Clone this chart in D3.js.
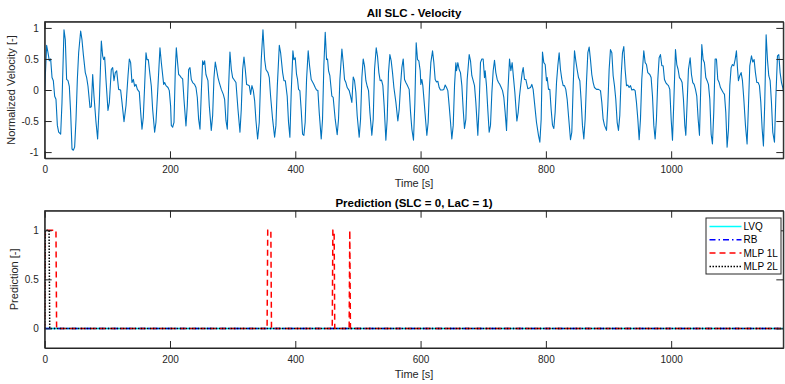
<!DOCTYPE html>
<html>
<head>
<meta charset="utf-8">
<script src="https://cdn.jsdelivr.net/npm/d3@7"></script>
<style>
  body { margin: 0; background: #fff; }
  svg { font-family: "Liberation Sans", Arial, sans-serif; }
  .axis path, .axis line { stroke: #262626; }
  .axis text { fill: #262626; font-size: 10px; }
</style>
</head>
<body>
<div id="main"></div>
<script>
// velocity: [time s, normalized velocity]
const velocity = [
  [0,0],[3.1,0.72],[5.3,0.6],[7.4,0.47],[9.5,0.5],[11.7,0.2],[13.8,0.15],[15.9,-0.1],[18,-0.15],[20.2,-0.57],[22.3,-0.68],[25.5,-0.71],[27.6,-0.2],[30.8,0.97],[32.9,0.81],[35,0.17],[37.2,0.15],[39.3,0.06],[41.4,-0.36],[43.6,-0.95],[45.7,-0.97],[47.8,-0.92],[50,-0.47],[52.1,0.17],[54.2,0.6],[57.4,0.95],[59.5,0.81],[61.7,0.57],[64.8,0.28],[67,0.2],[69.1,0.06],[72.3,-0.28],[74.4,-0.27],[76.6,0.25],[78.7,-0.1],[81.9,-0.52],[84.5,-0.79],[87.2,-0.2],[90.4,0.79],[92.5,0.55],[94.1,0.49],[95.7,0.53],[97.8,0.17],[101,-0.33],[103.2,-0.2],[106.3,0.33],[108.5,0.36],[110.6,0.15],[112.7,0.28],[114.9,0.31],[118,0.01],[121.2,0],[123.4,-0.2],[126.6,-0.51],[129.8,-0.25],[133,0.23],[135.1,0.5],[137.2,0.44],[139.3,0.12],[141.5,0.17],[143.6,0.06],[145.7,0.09],[147.9,0.01],[151,-0.03],[153.2,-0.36],[155.3,-0.63],[157.4,-0.44],[159.5,0.06],[161.7,0.6],[163.3,0.49],[165.4,0.49],[168,0.25],[170.2,0.06],[172.3,-0.31],[175.5,-0.68],[177.6,-0.52],[180.8,0.06],[184,0.68],[186.2,0.44],
  [189.9,0.09],[191.5,0.12],[193.6,0.07],[196.8,0.04],[198.9,-0.01],[201,-0.26],[202.1,-0.57],[204.2,-0.6],[206.4,-0.52],[208.5,0.33],[210.1,0.68],[211.7,0.49],[213.8,0.25],[215.9,0.23],[218,0.2],[220.2,0.18],[222.3,-0.15],[225.5,-0.58],[227.6,-0.25],[229.8,0.33],[231.9,0.36],[234,0.17],[236.2,0.12],[239.3,0.09],[241.5,0.04],[243.6,-0.12],[245.7,-0.47],[247.9,-0.63],[250,-0.04],[252.1,0.47],[253.7,0.41],[255.3,0.47],[257.4,0.25],[260.6,0.15],[262.7,-0.25],[265.9,-0.65],[268.1,-0.41],[270.2,0.2],[272.3,0.45],[274.4,0.33],[276.6,0.2],[278.7,0.12],[281.9,0.01],[285.1,-0.07],[287.2,-0.15],[289.3,-0.49],[291.5,-0.63],[293.6,0.06],[295.7,0.61],[297.9,0.33],[300,0.2],[302.1,0.17],[305.3,0.12],[308.5,-0.31],[311.7,-0.68],[313.8,-0.31],[316,0.33],[318.1,0.53],[320.2,0.33],[322.3,0.09],[324.5,0.08],[326.6,0.07],[328.7,-0.07],[330.8,0.07],[333,-0.01],[335.1,-0.17],[337.2,-0.49],[339.9,-0.79],[342.5,-0.52],[345.7,0.49],[348.4,0.97],[351.1,0.49],[353.2,0.33],[356.4,0.28],[358.5,0.2],[360.6,-0.1],[363.8,-0.47],[367,-0.76],[369.1,-0.57],[371.3,0.06],[374.5,0.72],[376.6,0.6],[379.8,0.28],[381.9,0.15],[384.1,0.15],
  [387.1,-0.1],[389.2,-0.52],[391.4,-0.76],[393.5,-0.04],[396.2,0.63],[397.8,0.49],[399.9,0.52],[402,0.25],[403.6,0.17],[405.2,0.01],[407.3,-0.01],[409.5,-0.33],[411.6,-0.71],[413.7,-0.73],[415.8,-0.52],[418,0.17],[420.6,0.63],[422.8,0.39],[425.4,0.17],[427.6,0.13],[429.7,0.09],[431.8,0.04],[433.9,0],[436.1,-0.01],[438.2,-0.36],[441.4,-0.79],[443.5,-0.47],[445.6,0.39],[447.8,0.93],[449.9,0.49],[451.5,0.5],[453.1,0.31],[455.2,0.23],[458.4,-0.1],[460.5,-0.12],[463.7,-0.47],[466.9,-0.72],[469,-0.47],[471.2,0.17],[474.4,0.66],[476.5,0.44],[478.6,0.17],[480.8,0.12],[482.9,0.04],[486.1,-0.01],[488.2,-0.1],[490.3,-0.2],[491.4,0.01],[492.5,0.21],[494.6,0.15],[496.7,-0.04],[498.8,-0.41],[502,-0.76],[504.2,-0.47],[506.3,0.2],[508.4,0.5],[510.5,0.39],[512.7,0.15],[514.8,0.06],[516.9,-0.01],[519.1,-0.36],[522.2,-0.73],[524.4,-0.47],[526.5,0.33],[529.2,0.68],[531.3,0.54],[533.4,0.28],[535.5,0.15],[537.7,0.16],[539.8,0.07],[541.9,-0.26],[544.6,-0.81],[546.7,-0.47],[548.8,0.28],[551,0.57],[553.1,0.47],[555.2,0.28],[557.4,0.04],[560.6,-0.2],[563.7,-0.5],[565.9,-0.31],[568,0.07],[570.1,0.36],[572.3,0.5],[574.4,0.17],[576.5,0.12],[578.6,0.08],
  [581.8,0.01],[584,-0.36],[586.1,-0.63],[588.7,-0.81],[590.9,-0.2],[593,0.76],[595.1,0.49],[597.2,0.47],[599.4,0.31],[600.4,0.09],[602,0.17],[603.6,0.07],[605.8,-0.2],[607.9,-0.47],[610,-0.73],[612.1,-0.52],[614.3,0.07],[616.4,0.44],[619.1,0.63],[621.2,0.44],[623.3,0.17],[625.4,0.13],[627.6,0.14],[629.7,0.04],[631.8,0],[635,0],[637.1,0.01],[639.3,0.08],[641.4,0.04],[643.5,-0.01],[645.7,-0.26],[647.8,-0.52],[649.9,-0.79],[652.1,-0.57],[654.2,0.07],[656.3,0.44],[657.4,0.31],[659.5,0.44],[661.6,0.33],[663.7,0.28],[665.9,0.07],[668,-0.31],[670.1,-0.62],[672.3,-0.47],[674.4,0.17],[677.6,0.57],[679.7,0.47],[681.8,0.23],[684,0.15],[686.1,0.07],[688.2,-0.2],[691.4,-0.73],[693.5,-0.25],[695.6,0.44],[697.8,0.5],[699.9,0.5],[702,0.2],[703.1,0.31],[705.2,0.07],[707.4,-0.33],[709.5,-0.68],[711.6,-0.57],[713.8,-0.04],[715.9,0.31],[718,0.48],[720.1,0.28],[722.3,0.17],[724.4,0.12],[726.5,0.09],[728.7,0.04],[730.8,-0.01],[732.9,-0.12],[735,-0.36],[737.2,-0.65],[739.3,-0.04],[742,0.5],[744.1,0.31],[746.2,0.44],[748.3,0.2],[750.5,-0.04],[753.7,-0.5],[755.8,-0.36],[757.9,-0.1],[760,0.09],[762.2,0.28],[763.8,0.36],[765.9,0.17],[768,0.17],[771.2,0.02],
  [775.5,0.04],[777.6,0.09],[779.7,0.01],[781.8,-0.2],[785,-0.52],[788.2,-0.73],[790.4,-0.84],[792.5,-0.47],[794.6,0.61],[796.7,0.44],[798.9,0.41],[801,0.15],[802.1,0.2],[804.2,0.01],[806.3,0.01],[808.4,-0.31],[810.6,-0.57],[812.7,-0.62],[814.8,-0.36],[817,0.12],[819.1,0.39],[821.2,0.6],[823.3,0.33],[825.5,0.17],[827.6,0.07],[829.7,0.07],[831.8,0.01],[834,-0.15],[836.1,-0.41],[839.3,-0.8],[841.4,-0.68],[843.6,0.07],[845.7,0.63],[847.8,0.47],[849.9,0.33],[852.1,0.2],[854.2,0.15],[856.3,-0.17],[858.4,-0.57],[860.6,-0.79],[862.7,-0.47],[864.8,0.12],[867,0.6],[869.1,0.69],[871.2,0.49],[873.3,0.25],[875.5,0.12],[877.6,0.04],[880.8,0.01],[884,0.01],[887.2,-0.01],[889.3,-0.2],[891.4,-0.47],[893.6,-0.57],[896.8,-0.65],[898.9,-0.25],[901,0.33],[903.1,0.65],[905.3,0.6],[907.4,0.23],[909.5,0.07],[911.6,-0.15],[913.8,-0.52],[915.9,-0.65],[918,-0.41],[920.2,0.23],[922.3,0.6],[924.4,0.7],[926.5,0.33],[928.7,0.07],[930.8,0.08],[932.9,0.04],[935.1,0.07],[937.2,0],[940.4,0.01],[942.5,-0.01],[944.6,-0.2],[946.8,-0.47],[948.9,-0.8],[951,-0.47],[953.1,0.17],[956.3,0.63],[958.5,0.44],[960.6,0.41],[962.7,0.28],[965.9,0.25],[968,0.2],
  [970.2,-0.1],[972.3,-0.57],[974.4,-0.79],[976.5,-0.47],[978.7,0.17],[980.8,0.52],[982.9,0.57],[985.1,0.39],[987.2,0.39],[989.3,0.17],[991.4,0.12],[993.6,0.09],[995.7,0.07],[997.8,0.01],[1000,-0.47],[1002.1,-0.81],[1004.2,-0.2],[1006.9,0.65],[1009,0.41],[1011.1,0.33],[1013.2,0.2],[1015.4,0.17],[1017.5,0.12],[1019.6,-0.15],[1021.8,-0.57],[1023.4,-0.73],[1025.5,-0.2],[1027.6,0.33],[1030.3,0.52],[1032.4,0.25],[1034.5,0.12],[1036.7,0.09],[1038.8,0.01],[1040.9,-0.1],[1043.1,-0.47],[1045.2,-0.73],[1047.3,0.07],[1048.9,0.73],[1051,0.49],[1053.1,0.44],[1055.3,0.2],[1057.4,0.15],[1059.5,0.09],[1061.7,-0.15],[1063.8,-0.71],[1065.9,-0.87],[1068,-0.36],[1070.2,0.5],[1072.3,0.5],[1074.4,0.17],[1076.6,0.12],[1078.7,0.04],[1080.8,0],[1083,-0.04],[1085.1,-0.07],[1087.2,-0.36],[1089.3,-0.92],[1091.5,-0.63],[1093.6,0.07],[1095.7,0.36],[1097.8,0.41],[1100,0.39],[1102.1,0.49],[1104.2,0.63],[1105.8,0.36],[1107.4,0.15],[1109.5,0.23],[1111.7,0.28],[1113.8,0.15],[1116,-0.15],[1118.6,-0.57],[1121.2,-0.87],[1123.4,-0.25],[1125.5,0.39],[1128.2,0.55],[1130.3,0.45],[1132.4,0.49],[1134.5,0.28],[1136.7,0.12],[1138.8,0.12],[1140.9,0.07],[1143.1,-0.2],[1145.2,-0.62],[1147.3,-0.9],[1149.4,-0.2],[1151.6,0.89],[1153.7,0.49],[1155.8,0.23],[1158,0.15],[1160.1,-0.2],[1162.2,-0.68],[1164.9,-0.84],[1167,-0.15],[1169.7,0.55],[1171.8,0.57],[1173.9,0.28],[1176.1,0.12],[1178.2,0.04],[1180.3,-0.1]
];

// predictions (0 = SLC, 1 = LaC)
const predLVQ = [[0,0],[1179,0]];
const predRB = [[0,0],[1179,0]];
const predMLP1 = [[0,0],[1,1],[18,1],[19,0],[355,0],[356,1],[361,1],[362,0],[459,0],[460,1],[462,1],[463,0],[486,0],[487,1],[488,0],[1179,0]];
const predMLP2 = [[0,0],[1,1],[7,1],[8,0],[1179,0]];

const legendNames = ['LVQ', 'RB', 'MLP 1L', 'MLP 2L'];
const timeTicks = [0, 200, 400, 600, 800, 1000];
const velTicks = [-1, -0.5, 0, 0.5, 1];
const predTicks = [0, 0.5, 1];

const width = 785, height = 384;
const left = 44.7, right = 783.3;
const topPanel = { top: 21.7, bottom: 158.3 };
const botPanel = { top: 210.7, bottom: 348 };
const tick = 7;

const svg = d3.select('#main').append('svg')
  .attr('width', width)
  .attr('height', height);

const x = d3.scaleLinear().domain([0, 1179]).range([left, right]);
const y1 = d3.scaleLinear().domain([-1.1, 1.1]).range([topPanel.bottom, topPanel.top]);
const y2 = d3.scaleLinear().domain([-0.2, 1.2]).range([botPanel.bottom, botPanel.top]);

const fmt = d => String(d);

function drawAxes(y, panel, yTicks) {
  svg.append('g').attr('class', 'axis')
    .attr('transform', `translate(0,${panel.bottom})`)
    .call(d3.axisBottom(x).tickValues(timeTicks).tickSize(-tick).tickPadding(8).tickFormat(fmt).tickSizeOuter(0));
  svg.append('g').attr('class', 'axis')
    .attr('transform', `translate(0,${panel.top})`)
    .call(d3.axisTop(x).tickValues(timeTicks).tickSize(-tick).tickFormat('').tickSizeOuter(0));
  svg.append('g').attr('class', 'axis')
    .attr('transform', `translate(${left},0)`)
    .call(d3.axisLeft(y).tickValues(yTicks).tickSize(-tick).tickPadding(6).tickFormat(fmt).tickSizeOuter(0));
  svg.append('g').attr('class', 'axis')
    .attr('transform', `translate(${right},0)`)
    .call(d3.axisRight(y).tickValues(yTicks).tickSize(-tick).tickFormat('').tickSizeOuter(0));
}

function clip(id, panel) {
  svg.append('clipPath').attr('id', id)
    .append('rect')
    .attr('x', left).attr('y', panel.top)
    .attr('width', right - left).attr('height', panel.bottom - panel.top);
}

// top panel
clip('clip-top', topPanel);
svg.append('path')
  .datum(velocity)
  .attr('clip-path', 'url(#clip-top)')
  .attr('fill', 'none')
  .attr('stroke', '#0072BD')
  .attr('stroke-width', 1.1)
  .attr('stroke-linejoin', 'round')
  .attr('d', d3.line().x(d => x(d[0])).y(d => y1(d[1])));
drawAxes(y1, topPanel, velTicks);

// bottom panel
clip('clip-bot', botPanel);
const series = [
  { name: legendNames[0], data: predLVQ, color: '#00FFFF', dash: null },
  { name: legendNames[1], data: predRB, color: '#0000FF', dash: '6,3,1.5,3' },
  { name: legendNames[2], data: predMLP1, color: '#FF0000', dash: '6,4' },
  { name: legendNames[3], data: predMLP2, color: '#000000', dash: '1.5,1.5' }
];
const line2 = d3.line().x(d => x(d[0])).y(d => y2(d[1]));
svg.selectAll('.pred-line')
  .data(series)
  .enter().append('path')
    .attr('class', 'pred-line')
    .attr('clip-path', 'url(#clip-bot)')
    .attr('fill', 'none')
    .attr('stroke', d => d.color)
    .attr('stroke-width', 1.5)
    .attr('stroke-dasharray', d => d.dash)
    .attr('d', d => line2(d.data));
drawAxes(y2, botPanel, predTicks);

// box outlines
[topPanel, botPanel].forEach(p => {
  svg.append('rect')
    .attr('x', left).attr('y', p.top)
    .attr('width', right - left).attr('height', p.bottom - p.top)
    .attr('fill', 'none')
    .attr('stroke', '#262626')
    .attr('stroke-width', 1);
});

// titles and labels
const cx = (left + right) / 2;
svg.append('text').attr('x', cx).attr('y', 16.5)
  .attr('text-anchor', 'middle').attr('font-size', 11.5).attr('font-weight', 'bold')
  .text('All SLC - Velocity');
svg.append('text').attr('x', cx).attr('y', 206.7)
  .attr('text-anchor', 'middle').attr('font-size', 11.5).attr('font-weight', 'bold')
  .text('Prediction (SLC = 0, LaC = 1)');
svg.append('text').attr('x', cx).attr('y', 186.5)
  .attr('text-anchor', 'middle').attr('font-size', 11).attr('fill', '#262626')
  .text('Time [s]');
svg.append('text').attr('x', cx).attr('y', 378)
  .attr('text-anchor', 'middle').attr('font-size', 11).attr('fill', '#262626')
  .text('Time [s]');
svg.append('text')
  .attr('transform', `translate(14.7,${(topPanel.top + topPanel.bottom) / 2}) rotate(-90)`)
  .attr('text-anchor', 'middle').attr('font-size', 11).attr('fill', '#262626')
  .text('Normalized Velocity [-]');
svg.append('text')
  .attr('transform', `translate(18,${(botPanel.top + botPanel.bottom) / 2}) rotate(-90)`)
  .attr('text-anchor', 'middle').attr('font-size', 11).attr('fill', '#262626')
  .text('Prediction [-]');

// legend
const legend = svg.append('g').attr('transform', 'translate(706,218)');
legend.append('rect')
  .attr('width', 75).attr('height', 56)
  .attr('fill', '#fff').attr('stroke', '#262626').attr('stroke-width', 1);
const rows = legend.selectAll('.legend-row')
  .data(series)
  .enter().append('g')
    .attr('class', 'legend-row')
    .attr('transform', (d, i) => `translate(0,${8.5 + i * 13.3})`);
rows.append('line')
  .attr('x1', 3.5).attr('x2', 35.5)
  .attr('stroke', d => d.color)
  .attr('stroke-width', 1.5)
  .attr('stroke-dasharray', d => d.dash);
rows.append('text')
  .attr('x', 37.5).attr('dy', '0.35em')
  .attr('font-size', 10).attr('fill', '#000')
  .text(d => d.name);
</script>
</body>
</html>
